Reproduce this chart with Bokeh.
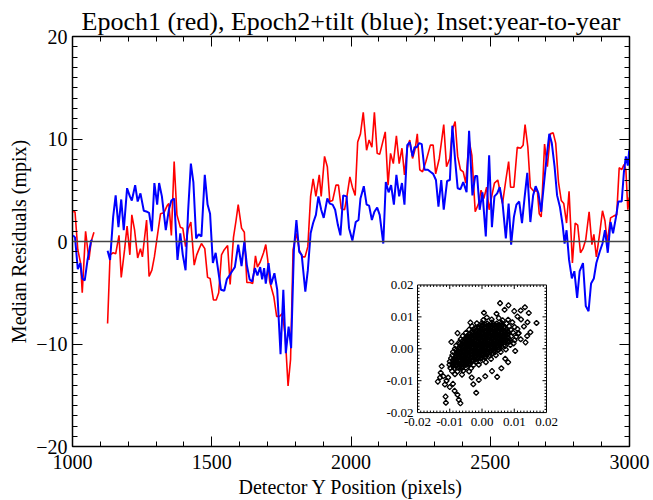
import math
from bokeh.plotting import figure
from bokeh.models import Range1d, LinearAxis, SingleIntervalTicker, Span, CustomJSTickFormatter
from bokeh.embed import file_html
from bokeh.resources import INLINE

nan = float("nan")

# ---------------- data ----------------
red_x = [1002, 1009, 1019, 1029, 1035, 1047, 1059, 1067, 1077, nan,
         1126, 1135, 1146, 1155, 1167, 1175, 1187, 1196, 1206, 1213, 1223, 1234, 1244, 1251,
         1266, 1275, 1285, 1294, 1306, 1316, 1328, 1340, 1346, 1355, 1365, 1375, 1387, 1396,
         1406, 1415, 1425, 1437, 1446, 1455, 1463, 1475, 1485, 1494, 1506, 1516, 1525, 1535,
         1545, 1557, 1566, 1578, 1587, 1595, 1607, 1617, 1626, 1638, 1647, 1657, 1664, 1674,
         1686, 1694, 1701, 1708, 1718, 1723, 1733, 1744, 1754, 1764, 1774, 1783, 1792, 1804,
         1814, 1825, 1835, 1845, 1855, 1864, 1874, 1886, 1893, 1905, 1915, 1924, 1934, 1946,
         1955, 1965, 1977, 1986, 1996, 2005, 2015, 2024, 2034, 2044, 2056, 2065, 2075, 2084,
         2094, 2103, 2113, 2123, 2133, 2142, 2152, 2163, 2173, 2183, 2192, 2202, 2211, 2221,
         2231, 2238, 2247, 2257, 2269, 2285, 2295, 2304, 2317, 2333, 2343, 2355, 2364, 2374,
         2383, 2393, 2403, 2412, 2424, 2434, 2446, 2458, 2467, 2477, 2487, 2496, 2506, 2515,
         2527, 2544, 2556, 2566, 2573, 2585, 2597, 2609, 2618, 2625, 2635, 2644, 2656, 2669,
         2676, 2683, 2695, 2705, 2716, 2726, 2735, 2745, 2755, 2764, 2774, 2783, 2795, 2805,
         2814, 2824, 2833, 2843, 2855, 2865, 2872, 2881, 2893, 2903, 2912, 2920, 2932, 2944,
         2954, 2963, 2972, 2980, 2987, 2994, 2999]
red_y = [2.9, 2.9, -0.8, -2.1, -5.0, 1.0, -1.8, 0.0, 0.9, nan,
         -8.0, -1.3, -1.1, -1.2, 0.6, -3.5, -0.8, 1.5, -1.3, 2.6, 1.1, -1.6, -0.7, -1.5,
         2.1, -3.4, -2.8, -1.5, 0.8, 2.7, 2.8, 3.5, 3.7, 0.6, 7.8, 2.6, 1.4, 1.3,
         -0.5, 1.2, 1.9, -2.3, -1.3, -0.7, -0.2, -0.7, -3.5, -3.6, -5.7, -5.7, -5.0, -1.3,
         -0.8, -0.4, -4.2, 0.4, 2.0, 3.6, 1.3, 0.9, -4.0, -4.0, -4.1, -1.4, -2.5, -2.0,
         -1.1, -0.3, -1.8, -3.9, -4.9, -5.4, -7.3, -7.3, -7.0, -9.3, -14.1, -11.5, -0.8, 0.8,
         -0.8, -1.5, -1.5, -0.5, 4.4, 6.1, 4.4, 6.5, 4.4, 8.3, 7.3, 3.9, 4.0, 5.5,
         5.5, 3.2, 3.1, 4.5, 6.3, 5.3, 4.5, 9.7, 10.5, 12.6, 8.9, 9.9, 9.2, 12.6,
         8.6, 8.5, 9.6, 10.7, 5.5, 8.6, 7.6, 10.3, 7.6, 9.1, 6.5, 9.1, 9.9, 8.1,
         9.1, 10.5, 7.0, 6.8, 7.8, 9.4, 9.4, 6.6, 8.1, 11.4, 7.3, 8.1, 10.9, 11.7,
         8.3, 7.0, 6.8, 5.7, 9.9, 8.4, 2.9, 3.7, 5.0, 4.2, 5.3, 3.1, 4.5, 5.7,
         6.0, 3.7, 6.0, 7.8, 5.3, 5.3, 9.2, 9.1, 9.4, 11.4, 9.2, 5.3, 4.9, 5.0,
         2.7, 2.4, 9.5, 7.3, 10.5, 10.6, 9.6, 5.8, 4.0, 3.7, 1.8, 4.9, -2.1, 1.8,
         1.6, -1.1, -0.7, 0.2, 2.9, -0.3, 0.7, -1.5, 0.8, 3.0, 2.0, -0.1, 2.3, 2.5,
         2.6, 7.2, 7.0, 7.5, 7.0, 3.1, 4.3]

blue_x = [1002, 1009, 1019, 1028, 1035, 1044, 1054, 1067, 1072, nan,
          1126, 1135, 1146, 1155, 1165, 1175, 1184, 1196, 1206, 1213, 1225, 1234, 1244, 1256,
          1268, 1275, 1285, 1294, 1304, 1311, 1321, 1335, 1346, 1355, 1365, 1377, 1387, 1396,
          1406, 1415, 1425, 1434, 1444, 1453, 1463, 1475, 1485, 1494, 1504, 1514, 1523, 1533,
          1545, 1554, 1564, 1573, 1583, 1595, 1607, 1617, 1626, 1636, 1645, 1655, 1664, 1674,
          1681, 1688, 1694, 1704, 1713, 1725, 1735, 1747, 1757, 1766, 1776, 1785, 1795, 1804,
          1814, 1823, 1836, 1845, 1855, 1864, 1874, 1883, 1893, 1902, 1915, 1924, 1934, 1943,
          1953, 1962, 1972, 1984, 1993, 2005, 2017, 2027, 2034, 2046, 2056, 2065, 2075, 2084,
          2094, 2103, 2116, 2125, 2135, 2144, 2154, 2163, 2173, 2183, 2192, 2202, 2211, 2221,
          2228, 2236, 2245, 2254, 2264, 2276, 2285, 2295, 2305, 2314, 2324, 2333, 2345, 2355,
          2364, 2374, 2383, 2393, 2403, 2415, 2424, 2436, 2446, 2453, 2462, 2472, 2484, 2496,
          2506, 2515, 2525, 2534, 2544, 2556, 2566, 2575, 2585, 2594, 2604, 2614, 2623, 2633,
          2644, 2654, 2663, 2673, 2683, 2692, 2702, 2712, 2721, 2731, 2740, 2750, 2760, 2767,
          2774, 2783, 2793, 2802, 2812, 2821, 2833, 2843, 2853, 2862, 2872, 2881, 2893, 2903,
          2912, 2922, 2932, 2941, 2951, 2960, 2972, 2980, 2987, 2994, 2999]
blue_y = [0.6, 0.4, -2.7, -2.1, -3.6, -3.8, -1.8, 0.1, 0.1, nan,
          -0.9, -1.8, 2.4, 4.5, 1.4, 4.1, 1.1, 5.2, 4.4, 4.0, 5.5, 3.9, 4.7, 3.0,
          2.9, 2.8, 1.0, 5.7, 3.6, 5.7, 4.4, 1.1, 3.1, 4.0, 4.2, -1.8, 0.8, -1.3,
          -2.8, 2.9, 7.6, 5.8, 0.3, 0.7, 0.5, 6.5, 3.6, 2.7, -2.1, -1.1, -2.8, -4.7,
          -4.8, -3.7, -3.3, -2.9, -2.5, -0.3, -2.4, 0.0, -2.3, -3.7, -3.9, -2.6, -3.3, -2.5,
          -3.7, -2.6, -4.1, -2.1, -4.2, -3.1, -4.7, -11.0, -4.7, -10.9, -8.3, -10.4, -0.8, 2.1,
          -1.0, -1.3, -4.9, -2.8, 0.8, 1.8, 2.6, 4.4, 3.1, 2.3, 4.2, 3.7, 3.6, 3.1,
          1.6, 0.6, 4.5, 4.4, 1.3, 0.1, 1.9, 2.1, 4.2, 5.4, 3.6, 3.5, 2.1, 2.9,
          3.3, 2.6, -0.2, 5.8, 4.8, 5.5, 3.6, 6.5, 4.4, 5.7, 3.6, 9.4, 9.7, 8.3,
          9.2, 9.2, 9.6, 9.5, 7.0, 7.0, 6.8, 6.6, 6.0, 3.4, 6.0, 3.1, 5.9, 6.0,
          11.3, 7.9, 5.2, 5.1, 5.8, 4.8, 10.8, 4.5, 6.4, 6.4, 3.1, 4.8, 0.5, 8.4,
          1.4, 4.4, 4.7, 5.3, 3.8, 0.3, 3.7, -0.3, 2.4, 3.6, 3.9, 1.8, 4.2, 6.7,
          1.9, 4.5, 5.4, 4.7, 2.9, 5.4, 8.1, 10.5, 9.6, 7.3, 4.5, 3.4, 1.6, -0.2,
          1.1, -1.8, -3.6, -2.9, -5.5, -2.9, -2.1, -6.3, -6.8, -4.1, -3.6, -2.1, -1.0, -0.2,
          1.1, -1.1, 1.9, 0.8, 2.3, 3.9, 3.9, 6.8, 8.3, 7.4, 8.9]

# inset: year-to-year scatter, values in units of 0.001
inset_points_milli = [
    (1.5, 9.8), (5.2, 9.6),
    (0.4, 9.0), (3.0, 9.2), (6.4, 8.9), (8.1, 9.1),
    (-1.6, 8.0), (0.0, 8.1), (1.6, 7.9), (3.1, 8.2), (4.6, 7.9), (6.1, 8.1), (7.6, 7.9), (9.4, 8.3),
    (-3.1, 7.1), (-1.2, 6.9), (0.1, 7.2), (1.1, 6.9), (2.1, 7.1), (3.0, 6.9), (4.1, 7.1), (5.0, 6.9),
    (6.1, 7.1), (7.0, 6.9), (8.4, 7.1), (10.1, 6.8),
    (-4.0, 6.0), (-2.6, 6.1), (-1.5, 5.9), (-0.5, 6.1), (0.5, 5.9), (1.5, 6.1), (2.5, 5.9), (3.5, 6.1),
    (4.5, 5.9), (5.5, 6.1), (6.5, 5.9), (7.5, 6.1), (9.0, 5.9), (11.0, 6.2),
    (-5.0, 5.0), (-3.1, 5.1), (-2.0, 4.9), (-1.0, 5.1), (0.0, 4.9), (1.0, 5.1), (2.0, 4.9), (3.0, 5.1),
    (4.0, 4.9), (5.0, 5.1), (6.0, 4.9), (7.0, 5.1), (8.1, 4.9), (9.6, 5.1), (11.2, 4.8),
    (-6.0, 4.0), (-4.5, 4.1), (-3.5, 3.9), (-2.5, 4.1), (-1.5, 3.9), (-0.5, 4.1), (0.5, 3.9), (1.5, 4.1),
    (2.5, 3.9), (3.5, 4.1), (4.5, 3.9), (5.5, 4.1), (6.5, 3.9), (7.5, 4.1), (9.0, 3.9), (10.6, 3.8),
    (-6.6, 3.0), (-5.0, 3.1), (-4.0, 2.9), (-3.0, 3.1), (-2.0, 2.9), (-1.0, 3.1), (0.0, 2.9), (1.0, 3.1),
    (2.0, 2.9), (3.0, 3.1), (4.0, 2.9), (5.0, 3.1), (6.0, 2.9), (7.1, 3.1), (8.6, 2.9), (10.1, 2.7),
    (-7.1, 2.0), (-5.5, 2.1), (-4.5, 1.9), (-3.5, 2.1), (-2.5, 1.9), (-1.5, 2.1), (-0.5, 1.9), (0.5, 2.1),
    (1.5, 1.9), (2.5, 2.1), (3.5, 1.9), (4.5, 2.1), (5.5, 1.9), (7.0, 2.1), (8.6, 2.2),
    (-8.0, 1.0), (-6.5, 1.1), (-5.5, 0.9), (-4.5, 1.1), (-3.5, 0.9), (-2.5, 1.1), (-1.5, 0.9), (-0.5, 1.1),
    (0.5, 0.9), (1.5, 1.1), (2.5, 0.9), (3.5, 1.1), (4.5, 0.9), (5.6, 1.1), (7.2, 0.9), (8.8, 1.2),
    (-8.4, 0.0), (-7.0, 0.1), (-6.0, -0.1), (-5.0, 0.1), (-4.0, -0.1), (-3.0, 0.1), (-2.0, -0.1), (-1.0, 0.1),
    (0.0, -0.1), (1.0, 0.1), (2.0, -0.1), (3.0, 0.1), (4.1, -0.1), (5.6, 0.1), (7.4, -0.2),
    (-9.0, -1.0), (-7.5, -0.9), (-6.5, -1.1), (-5.5, -0.9), (-4.5, -1.1), (-3.5, -0.9), (-2.5, -1.1),
    (-1.5, -0.9), (-0.5, -1.1), (0.5, -0.9), (1.5, -1.1), (2.6, -0.9), (4.0, -1.1), (5.8, -1.0),
    (-9.2, -2.0), (-8.0, -2.1), (-7.0, -1.9), (-6.0, -2.1), (-5.0, -1.9), (-4.0, -2.1), (-3.0, -1.9),
    (-2.0, -2.1), (-1.0, -1.9), (0.0, -2.1), (1.1, -1.9), (2.5, -2.1), (4.3, -2.0),
    (-9.6, -3.0), (-8.5, -3.1), (-7.5, -2.9), (-6.5, -3.1), (-5.5, -2.9), (-4.5, -3.1), (-3.5, -2.9),
    (-2.5, -3.1), (-1.5, -2.9), (-0.4, -3.1), (1.0, -2.9), (2.8, -3.2),
    (-10.0, -4.0), (-8.9, -3.9), (-7.9, -4.1), (-7.0, -3.9), (-6.0, -4.1), (-5.0, -3.9), (-4.0, -4.1),
    (-3.0, -3.9), (-1.9, -4.1), (-0.5, -3.9), (1.2, -4.2),
    (-10.1, -5.0), (-9.0, -5.1), (-8.0, -4.9), (-7.0, -5.1), (-6.0, -4.9), (-5.0, -5.1), (-3.9, -4.9),
    (-2.6, -5.1), (-1.0, -5.0),
    (-9.8, -6.0), (-8.5, -6.1), (-7.4, -5.9), (-6.3, -6.1), (-5.0, -5.9), (-3.4, -6.1),
    (-9.3, -7.0), (-7.6, -7.1), (-5.8, -6.9), (-4.0, -7.1),
    (-8.4, -8.0), (-6.2, -8.1),
    # dense middle of the cloud
    (0.1, 7.5), (1.0, 7.6), (2.0, 7.4), (3.1, 7.5), (4.0, 7.6), (5.0, 7.4), (6.1, 7.5),
    (-2.0, 6.5), (-1.0, 6.6), (0.0, 6.4), (1.0, 6.5), (2.1, 6.6), (3.0, 6.4), (4.0, 6.5), (5.1, 6.6),
    (6.0, 6.4), (7.0, 6.5),
    (-3.0, 5.5), (-2.0, 5.6), (-1.0, 5.4), (0.0, 5.5), (1.1, 5.6), (2.0, 5.4), (3.0, 5.5), (4.0, 5.6),
    (5.0, 5.4), (6.1, 5.5), (7.0, 5.6), (8.0, 5.4),
    (-4.0, 4.5), (-3.0, 4.6), (-2.0, 4.4), (-1.1, 4.5), (0.0, 4.6), (1.0, 4.4), (2.0, 4.5), (3.1, 4.6),
    (4.0, 4.4), (5.0, 4.5), (6.0, 4.6), (7.1, 4.4), (8.0, 4.5),
    (-5.0, 3.5), (-4.0, 3.6), (-3.0, 3.4), (-2.0, 3.5), (-1.0, 3.6), (0.1, 3.4), (1.0, 3.5), (2.0, 3.6),
    (3.0, 3.4), (4.1, 3.5), (5.0, 3.6), (6.0, 3.4), (7.0, 3.5), (8.0, 3.6),
    (-6.0, 2.5), (-5.0, 2.6), (-4.0, 2.4), (-3.1, 2.5), (-2.0, 2.6), (-1.0, 2.4), (0.0, 2.5), (1.0, 2.6),
    (2.1, 2.4), (3.0, 2.5), (4.0, 2.6), (5.0, 2.4), (6.0, 2.5), (7.1, 2.6), (8.0, 2.4),
    (-7.0, 1.5), (-6.0, 1.6), (-5.0, 1.4), (-4.0, 1.5), (-3.0, 1.6), (-2.1, 1.4), (-1.0, 1.5), (0.0, 1.6),
    (1.0, 1.4), (2.0, 1.5), (3.1, 1.6), (4.0, 1.4), (5.0, 1.5), (6.0, 1.6), (7.0, 1.4),
    (-7.0, 0.5), (-6.0, 0.6), (-5.1, 0.4), (-4.0, 0.5), (-3.0, 0.6), (-2.0, 0.4), (-1.0, 0.5), (0.1, 0.6),
    (1.0, 0.4), (2.0, 0.5), (3.0, 0.6), (4.0, 0.4), (5.1, 0.5), (6.0, 0.6),
    (-8.0, -0.5), (-7.0, -0.4), (-6.0, -0.6), (-5.0, -0.5), (-4.1, -0.4), (-3.0, -0.6), (-2.0, -0.5),
    (-1.0, -0.4), (0.0, -0.6), (1.1, -0.5), (2.0, -0.4), (3.0, -0.6), (4.0, -0.5), (5.0, -0.4),
    (-8.0, -1.5), (-7.0, -1.4), (-6.1, -1.6), (-5.0, -1.5), (-4.0, -1.4), (-3.0, -1.6), (-2.0, -1.5),
    (-1.0, -1.4), (0.1, -1.6), (1.0, -1.5), (2.0, -1.4), (3.0, -1.6),
    (-8.0, -2.5), (-7.1, -2.4), (-6.0, -2.6), (-5.0, -2.5), (-4.0, -2.4), (-3.0, -2.6), (-2.1, -2.5),
    (-1.0, -2.4), (0.0, -2.6), (1.0, -2.5),
    (-9.0, -3.5), (-8.0, -3.4), (-7.0, -3.6), (-6.0, -3.5), (-5.1, -3.4), (-4.0, -3.6), (-3.0, -3.5),
    (-2.0, -3.4),
    (-9.0, -4.5), (-8.0, -4.4), (-7.1, -4.6), (-6.0, -4.5), (-5.0, -4.4), (-4.0, -4.6),
    (-9.0, -5.5), (-8.1, -5.4), (-7.0, -5.6), (-6.0, -5.5),
    # sparse outer points
    (-13.7, -10.3), (-12.5, -5.5), (-12.8, -7.5), (-11.3, -15.0), (-11.2, -16.9), (-6.7, -17.1),
    (-9.5, 2.1), (-7.6, 4.9), (-3.6, 8.2), (-2.7, -11.1), (-1.8, -13.8), (0.6, 11.3), (4.5, 11.0),
    (5.6, 14.3), (8.2, 13.6), (13.3, 13.0), (14.5, 11.2), (16.9, 8.1), (14.0, 4.0), (4.7, -8.8),
    (7.2, -3.1), (10.3, -0.7), (9.8, 1.7), (-6.3, -5.7), (-4.6, -4.4), (-13.0, -9.0), (-12.0, -8.6),
    (-11.0, -10.0), (-10.5, -9.0), (-11.5, -11.2), (-10.0, -12.0), (-9.0, -11.0), (-8.5, -13.2),
    (-7.6, -14.4), (-7.2, -16.0), (12.1, 9.2), (13.0, 7.0), (11.0, 10.1), (15.0, 5.2), (14.1, 8.3),
    (12.0, 12.0), (10.0, 11.8), (7.0, 12.2), (12.0, 3.0), (8.1, -4.2), (6.0, -6.1), (3.1, -7.0),
    (1.0, -8.6), (-1.0, -9.8), (-3.2, -9.0), (11.4, 4.9), (13.5, 2.0),
]
inset_x = [px / 1000.0 for px, py in inset_points_milli]
inset_y = [py / 1000.0 for px, py in inset_points_milli]

inset_ticks = [-0.02, -0.01, 0.0, 0.01, 0.02]
inset_tick_labels = ["-0.02", "-0.01", "0.00", "0.01", "0.02"]

title_text = "Epoch1 (red), Epoch2+tilt (blue); Inset:year-to-year"
x_label = "Detector Y Position (pixels)"
y_label = "Median Residuals (mpix)"

# ---------------- figure ----------------
SERIF = "Liberation Serif"

p = figure(width=653, height=500, x_range=Range1d(1000, 3000), y_range=Range1d(-20, 20),
           output_backend="svg", toolbar_location=None,
           min_border_left=72, min_border_right=24, min_border_top=36, min_border_bottom=53)
p.background_fill_color = "white"
p.border_fill_color = "white"
p.xgrid.visible = False
p.ygrid.visible = False
p.outline_line_color = "black"
p.outline_line_width = 1.5

p.title.text = title_text
p.title.align = "center"
p.title.text_font = SERIF
p.title.text_font_size = "26px"
p.title.text_font_style = "normal"
p.title.text_color = "black"
p.title.standoff = 2

xt = SingleIntervalTicker(interval=500, num_minor_ticks=5)
yt = SingleIntervalTicker(interval=10, num_minor_ticks=10)


def style_axis(ax):
    ax.major_tick_in = 10
    ax.major_tick_out = 0
    ax.minor_tick_in = 5
    ax.minor_tick_out = 0
    ax.major_tick_line_color = "black"
    ax.minor_tick_line_color = "black"
    ax.axis_line_color = "black"
    ax.major_label_text_font = SERIF
    ax.major_label_text_font_size = "20px"
    ax.major_label_text_color = "black"
    ax.axis_label_text_font = SERIF
    ax.axis_label_text_font_size = "20px"
    ax.axis_label_text_font_style = "normal"
    ax.axis_label_text_color = "black"


xa = p.xaxis[0]
ya = p.yaxis[0]
xa.ticker = xt
ya.ticker = yt
style_axis(xa)
style_axis(ya)
xa.axis_label = x_label
ya.axis_label = y_label
xa.major_label_standoff = 8
xa.axis_label_standoff = 4
ya.major_label_standoff = 5
ya.axis_label_standoff = 3

blank = CustomJSTickFormatter(code="return ''")
top_ax = LinearAxis(ticker=xt, formatter=blank)
right_ax = LinearAxis(ticker=yt, formatter=blank)
for ax in (top_ax, right_ax):
    style_axis(ax)
    ax.major_label_text_font_size = "0px"
    ax.major_label_standoff = 0
p.add_layout(top_ax, "above")
p.add_layout(right_ax, "right")

# main curves
p.line(red_x, red_y, line_color="#ff0000", line_width=1.6)
p.line(blue_x, blue_y, line_color="#0000ff", line_width=2)
p.add_layout(Span(location=0, dimension="width", line_color="#444444", line_width=1.4))

# ---------------- inset (own ranges mapped into a sub-box of the frame) ----------------
fl, fr, fb, ft = 0.6194, 0.851, 0.0827, 0.394   # inset box as fractions of the frame
lo, hi = inset_ticks[0], inset_ticks[-1]
sx = (hi - lo) / (fr - fl)
sy = (hi - lo) / (ft - fb)
p.extra_x_ranges = {"ix": Range1d(lo - fl * sx, lo - fl * sx + sx)}
p.extra_y_ranges = {"iy": Range1d(lo - fb * sy, lo - fb * sy + sy)}
R = dict(x_range_name="ix", y_range_name="iy")

p.quad(left=lo, right=hi, bottom=lo, top=hi, fill_color="white", line_color="black", line_width=1, **R)

# inset ticks (inward), major every 0.01, minor every 0.001
px_x = (hi - lo) / 129.0
px_y = (hi - lo) / 128.0
minor = [lo + k * 0.001 for k in range(1, 40)]
x0s, y0s, x1s, y1s = [], [], [], []
for t in minor:
    L = 4 if abs(round(t * 100) - t * 100) < 1e-6 else 2
    x0s += [t, t]; x1s += [t, t]
    y0s += [lo, hi]; y1s += [lo + L * px_y, hi - L * px_y]
    y0s += [t, t]; y1s += [t, t]
    x0s += [lo, hi]; x1s += [lo + L * px_x, hi - L * px_x]
p.segment(x0=x0s, y0=y0s, x1=x1s, y1=y1s, line_color="black", line_width=1, **R)

p.scatter(inset_x, inset_y, marker="square", angle=math.pi / 4, size=3.6,
          line_color="black", line_width=1.35, fill_alpha=0, **R)

p.text(x=inset_ticks, y=[lo] * len(inset_ticks), text=inset_tick_labels,
       text_align="center", text_baseline="top", y_offset=5,
       text_font=SERIF, text_font_size="13px", text_color="black", **R)
p.text(x=[lo] * len(inset_ticks), y=inset_ticks, text=inset_tick_labels,
       text_align="right", text_baseline="middle", x_offset=-4,
       text_font=SERIF, text_font_size="13px", text_color="black", **R)

open("out.html", "w").write(file_html(p, INLINE))
